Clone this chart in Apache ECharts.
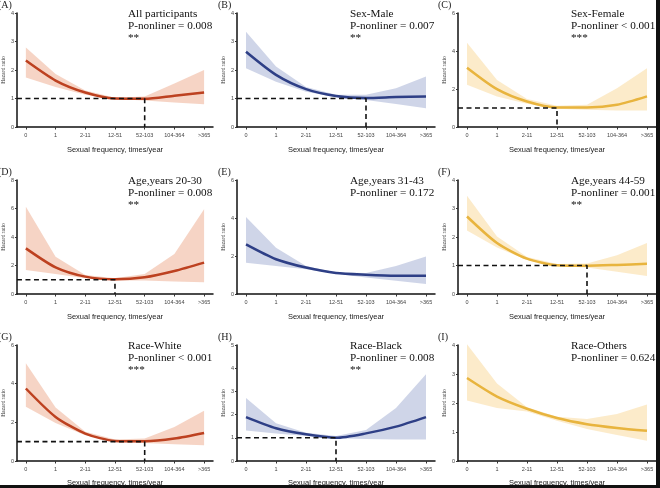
<!DOCTYPE html>
<html>
<head>
<meta charset="utf-8">
<script src="https://cdn.jsdelivr.net/npm/echarts@6/dist/echarts.min.js"></script>
<style>
  html, body, #main { width: 660px; height: 488px; margin: 0; background: #fff; }
</style>
</head>
<body>
<div id="main"></div>
<script>
var cats = ['0', '1', '2-11', '12-51', '52-103', '104-364', '>365'];

var letters = ['(A)', '(B)', '(C)', '(D)', '(E)', '(F)', '(G)', '(H)', '(I)'];
var groups = ['All participants', 'Sex-Male', 'Sex-Female', 'Age,years 20-30', 'Age,years 31-43',
              'Age,years 44-59', 'Race-White', 'Race-Black', 'Race-Others'];
var pTexts = ['P-nonliner = 0.008', 'P-nonliner = 0.007', 'P-nonliner < 0.001', 'P-nonliner = 0.008',
              'P-nonliner = 0.172', 'P-nonliner = 0.001', 'P-nonliner < 0.001', 'P-nonliner = 0.008',
              'P-nonliner = 0.624'];
var stars = ['**', '**', '***', '**', '', '**', '***', '**', ''];

// hazard ratio, lower and upper 95% CI, one row per panel A..I
var hr = [
  [2.33, 1.63, 1.21, 1.00, 0.99, 1.10, 1.21],
  [2.64, 1.83, 1.33, 1.09, 1.02, 1.05, 1.07],
  [3.12, 1.99, 1.34, 1.03, 1.03, 1.17, 1.61],
  [3.20, 1.87, 1.22, 1.03, 1.17, 1.61, 2.20],
  [2.61, 1.83, 1.39, 1.10, 1.01, 0.96, 0.96],
  [2.72, 1.79, 1.24, 1.01, 0.99, 1.02, 1.06],
  [3.75, 2.28, 1.42, 1.04, 1.02, 1.16, 1.45],
  [1.89, 1.41, 1.15, 1.00, 1.19, 1.48, 1.89],
  [2.86, 2.22, 1.80, 1.48, 1.27, 1.14, 1.04]
];
var lower = [
  [1.74, 1.40, 1.13, 0.98, 0.93, 0.86, 0.80],
  [2.06, 1.59, 1.24, 1.05, 0.95, 0.81, 0.66],
  [2.22, 1.61, 1.22, 0.96, 0.91, 0.87, 0.87],
  [1.68, 1.40, 1.10, 0.94, 0.94, 0.87, 0.82],
  [1.65, 1.48, 1.30, 1.06, 0.87, 0.70, 0.52],
  [2.23, 1.63, 1.19, 0.98, 0.93, 0.78, 0.63],
  [2.80, 1.97, 1.33, 0.99, 0.93, 0.87, 0.81],
  [1.31, 1.19, 1.08, 0.98, 0.95, 0.93, 0.93],
  [2.09, 1.83, 1.71, 1.39, 1.10, 0.90, 0.70]
];
var upper = [
  [2.79, 1.86, 1.28, 1.03, 1.07, 1.53, 2.00],
  [3.34, 2.12, 1.40, 1.13, 1.13, 1.36, 1.77],
  [4.43, 2.48, 1.48, 1.12, 1.17, 2.04, 3.09],
  [6.13, 2.62, 1.33, 1.10, 1.40, 2.81, 5.94],
  [4.05, 2.43, 1.48, 1.13, 1.10, 1.48, 1.97],
  [3.45, 2.02, 1.30, 1.05, 1.07, 1.36, 1.79],
  [5.05, 2.77, 1.51, 1.11, 1.16, 1.76, 2.60],
  [2.72, 1.63, 1.22, 1.08, 1.34, 2.28, 3.74],
  [4.03, 2.67, 1.85, 1.53, 1.45, 1.62, 1.95]
];
var yMax = [4, 4, 6, 8, 6, 4, 6, 5, 4];
var yStep = [1, 1, 2, 2, 2, 1, 2, 1, 1];
var refIdx = [4, 4, 3, 3, null, 4, 4, 3, null];

var lineColors = ['#BD4120', '#2E3F86', '#E8B43E'];
var bandColors = ['rgba(238,170,140,0.5)', 'rgba(160,172,210,0.5)', 'rgba(250,215,150,0.5)'];

var colLeft = [15, 237, 458];
var rowTop = [13, 180, 345];
var rowH = [114, 114, 116];
var nameGaps = [19, 19, 18];
var plotW = 198;
var xMin = -0.3, xMax = 6.3;

function bandRenderer(up, lo, color) {
  return function (params, api) {
    var pts = [];
    for (var k = 0; k < up.length; k++) pts.push(api.coord([k, up[k]]));
    for (var k = lo.length - 1; k >= 0; k--) pts.push(api.coord([k, lo[k]]));
    return { type: 'polygon', shape: { points: pts }, style: { fill: color } };
  };
}

var grids = [], xAxes = [], yAxes = [], series = [], graphics = [];

for (var i = 0; i < 9; i++) {
  var r = Math.floor(i / 3), c = i % 3;
  grids.push({ left: colLeft[c], top: rowTop[r], width: plotW, height: rowH[r] });
  xAxes.push({
    gridIndex: i, type: 'value', min: xMin, max: xMax,
    name: 'Sexual frequency, times/year', nameLocation: 'middle', nameGap: nameGaps[r],
    nameTextStyle: { fontSize: 7.5, color: '#222', fontFamily: 'Liberation Sans' },
    splitLine: { show: false },
    axisLine: { onZero: false, lineStyle: { color: '#111', width: 1.5 } },
    axisTick: { customValues: [0, 1, 2, 3, 4, 5, 6], length: 2.5, lineStyle: { color: '#333' } },
    axisLabel: {
      customValues: [0, 1, 2, 3, 4, 5, 6], fontSize: 5.5, color: '#444', margin: 5,
      fontFamily: 'Liberation Sans',
      formatter: function (v) { return cats[Math.round(v)]; }
    }
  });
  yAxes.push({
    gridIndex: i, type: 'value', min: 0, max: yMax[i], interval: yStep[i],
    name: 'Hazard ratio', nameLocation: 'middle', nameGap: 9,
    nameTextStyle: { fontSize: 5.5, color: '#333', fontFamily: 'Liberation Serif' },
    splitLine: { show: false },
    axisLine: { show: true, onZero: false, lineStyle: { color: '#111', width: 1.5 } },
    axisTick: { show: true, length: 2, lineStyle: { color: '#333' } },
    axisLabel: { fontSize: 5.5, color: '#444', margin: 3, fontFamily: 'Liberation Sans' }
  });

  series.push({
    type: 'custom', xAxisIndex: i, yAxisIndex: i, silent: true, z: 1,
    data: [[0, 1]],
    renderItem: bandRenderer(upper[i], lower[i], bandColors[c])
  });
  series.push({
    type: 'line', xAxisIndex: i, yAxisIndex: i, smooth: 0.25,
    data: hr[i].map(function (v, k) { return [k, v]; }),
    symbol: 'none', lineStyle: { color: lineColors[c], width: 2.5 }, z: 3
  });
  if (refIdx[i] !== null) {
    series.push({
      type: 'line', xAxisIndex: i, yAxisIndex: i,
      data: [[xMin, 1], [refIdx[i], 1], [refIdx[i], 0]],
      symbol: 'none', silent: true, z: 4,
      lineStyle: { color: '#111', width: 1.6, type: [5, 3.5] }
    });
  }

  // panel letter and group text
  graphics.push({
    type: 'text', left: c * 220 - 2, top: rowTop[r] - 13,
    style: { text: letters[i], fontSize: 10, fontFamily: 'Liberation Serif', fill: '#222' }
  });
  graphics.push({
    type: 'text', left: colLeft[c] + 113, top: rowTop[r] - 5,
    style: {
      text: groups[i] + '\n' + pTexts[i] + (stars[i] ? '\n' + stars[i] : ''),
      fontSize: 11.2, lineHeight: 12, fontFamily: 'Liberation Serif', fill: '#111'
    }
  });
}

// dark frame edges in the picture
graphics.push({ type: 'rect', shape: { x: 656, y: 0, width: 4, height: 488 }, style: { fill: '#111' } });
graphics.push({ type: 'rect', shape: { x: 0, y: 485, width: 660, height: 3 }, style: { fill: '#111' } });

var chart = echarts.init(document.getElementById('main'));
chart.setOption({
  animation: false,
  grid: grids,
  xAxis: xAxes,
  yAxis: yAxes,
  series: series,
  graphic: graphics
});
</script>
</body>
</html>
